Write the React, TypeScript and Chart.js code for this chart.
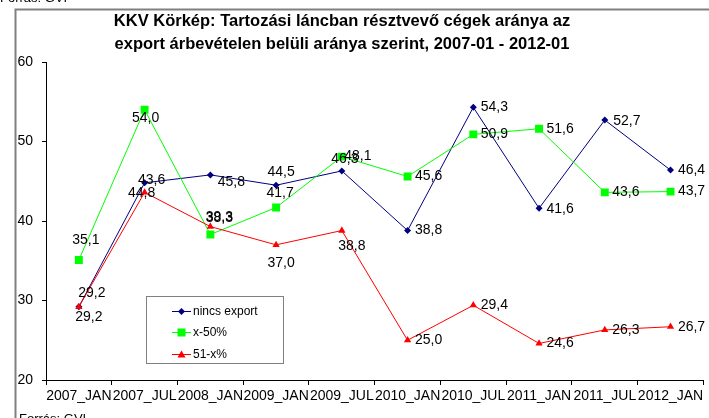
import React, { useEffect, useRef } from 'react';
import { Chart, registerables } from 'chart.js';

Chart.register(...registerables);

const categories = ['2007_JAN', '2007_JUL', '2008_JAN', '2009_JAN', '2009_JUL', '2010_JAN', '2010_JUL', '2011_JAN', '2011_JUL', '2012_JAN'];
const nincsExport = [29.2, 44.8, 45.8, 44.5, 46.3, 38.8, 54.3, 41.6, 52.7, 46.4];
const x50 = [35.1, 54.0, 38.3, 41.7, 48.1, 45.6, 50.9, 51.6, 43.6, 43.7];
const x51 = [29.2, 43.6, 39.3, 37.0, 38.8, 25.0, 29.4, 24.6, 26.3, 26.7];
const seriesNames = ['nincs export', 'x-50%', '51-x%'];
const yMin = 20;
const yMax = 60;
const yStep = 10;
const titleLines = [
  'KKV Körkép: Tartozási láncban résztvevő cégek aránya az',
  'export árbevételen belüli aránya szerint, 2007-01 - 2012-01',
];
const sourceText = 'Forrás: GVI';

// label placement (style only): offsets from each point
const blueLabelOffsets = [[13, -14], [-3, 10], [21, 7], [5, -13], [3, -12], [21, 0], [21, 0], [21, 1], [22, 1], [21, 0]];
const greenLabelOffsets = [[7, -20], [1, 8], [9, -16], [4, -14], [16, 0], [21, 0], [21, 0], [21, 0], [21, 0], [21, 0]];
const redLabelOffsets = [[10, 10], [7, -12], [9, -9], [5, 18], [10, 16], [21, 0], [21, 0], [21, 0], [21, 0], [21, 0]];

const FONT = '"Liberation Sans", Arial, sans-serif';
const COLORS = ['#000080', '#00FF00', '#FF0000'];
const W = 709;
const H = 418;

function fmt(v: number) {
  return v.toFixed(1).replace('.', ',');
}

function drawMarker(ctx: CanvasRenderingContext2D, kind: number, x: number, y: number) {
  ctx.save();
  ctx.fillStyle = COLORS[kind];
  ctx.strokeStyle = COLORS[kind];
  ctx.beginPath();
  if (kind === 0) {
    ctx.moveTo(x, y - 3.5);
    ctx.lineTo(x + 3.5, y);
    ctx.lineTo(x, y + 3.5);
    ctx.lineTo(x - 3.5, y);
    ctx.closePath();
  } else if (kind === 1) {
    ctx.rect(x - 4, y - 4, 8, 8);
  } else {
    ctx.moveTo(x, y - 4);
    ctx.lineTo(x + 4, y + 3);
    ctx.lineTo(x - 4, y + 3);
    ctx.closePath();
  }
  ctx.fill();
  ctx.restore();
}

const decorPlugin = {
  id: 'decor',
  beforeDraw(chart: any) {
    const ctx: CanvasRenderingContext2D = chart.ctx;
    ctx.save();
    ctx.fillStyle = '#ffffff';
    ctx.fillRect(0, 0, W, H);
    // cut-off source line of the previous chart
    ctx.fillStyle = '#000';
    ctx.font = `13px ${FONT}`;
    ctx.textAlign = 'left';
    ctx.textBaseline = 'alphabetic';
    ctx.fillText(sourceText, 0, 2);
    // frame
    ctx.strokeStyle = '#808080';
    ctx.lineWidth = 2;
    ctx.beginPath();
    ctx.moveTo(15.5, H + 5);
    ctx.lineTo(15.5, 9.5);
    ctx.lineTo(W + 5, 9.5);
    ctx.stroke();
    // title
    ctx.fillStyle = '#000';
    ctx.font = `bold 16.5px ${FONT}`;
    ctx.textAlign = 'center';
    ctx.fillText(titleLines[0], 342, 26);
    ctx.fillText(titleLines[1], 342, 49);
    // source
    ctx.font = `13px ${FONT}`;
    ctx.textAlign = 'left';
    ctx.textBaseline = 'top';
    ctx.fillText(sourceText, 19, 413);
    ctx.restore();
  },
  afterDatasetsDraw(chart: any) {
    const ctx: CanvasRenderingContext2D = chart.ctx;
    const offsets = [blueLabelOffsets, greenLabelOffsets, redLabelOffsets];
    ctx.save();
    ctx.font = `14px ${FONT}`;
    ctx.fillStyle = '#000';
    ctx.textAlign = 'center';
    ctx.textBaseline = 'middle';
    chart.data.datasets.forEach((ds: any, di: number) => {
      const meta = chart.getDatasetMeta(di);
      meta.data.forEach((el: any, i: number) => {
        const off = offsets[di][i];
        ctx.fillText(fmt(ds.data[i]), el.x + off[0], el.y + off[1]);
      });
    });
    ctx.restore();
  },
  afterDraw(chart: any) {
    const ctx: CanvasRenderingContext2D = chart.ctx;
    ctx.save();
    // legend box
    ctx.fillStyle = '#fff';
    ctx.fillRect(146.5, 296.5, 137, 67);
    ctx.strokeStyle = '#808080';
    ctx.lineWidth = 1;
    ctx.strokeRect(146.5, 296.5, 137, 67);
    const rows = [311, 332, 354];
    ctx.font = `12px ${FONT}`;
    ctx.textAlign = 'left';
    ctx.textBaseline = 'middle';
    seriesNames.forEach((name, i) => {
      const y = rows[i];
      ctx.strokeStyle = COLORS[i];
      ctx.beginPath();
      ctx.moveTo(172, y + 0.5);
      ctx.lineTo(191, y + 0.5);
      ctx.stroke();
      drawMarker(ctx, i, 181.5, y + 0.5);
      ctx.fillStyle = '#000';
      ctx.fillText(name, 193, y + 1);
    });
    ctx.restore();
  },
};

export default function App() {
  const canvasRef = useRef<HTMLCanvasElement | null>(null);

  useEffect(() => {
    if (!canvasRef.current) return;
    const chart = new Chart(canvasRef.current, {
      type: 'line',
      data: {
        labels: categories,
        datasets: [
          {
            label: seriesNames[0],
            data: nincsExport,
            borderColor: COLORS[0],
            backgroundColor: COLORS[0],
            borderWidth: 1,
            pointStyle: 'rectRot',
            pointRadius: 3.5,
            pointBorderWidth: 0,
            tension: 0,
            order: 3,
          },
          {
            label: seriesNames[1],
            data: x50,
            borderColor: COLORS[1],
            backgroundColor: COLORS[1],
            borderWidth: 1,
            pointStyle: 'rect',
            pointRadius: 5.6,
            pointBorderWidth: 0,
            tension: 0,
            order: 2,
          },
          {
            label: seriesNames[2],
            data: x51,
            borderColor: COLORS[2],
            backgroundColor: COLORS[2],
            borderWidth: 1,
            pointStyle: 'triangle',
            pointRadius: 4.2,
            pointBorderWidth: 0,
            tension: 0,
            order: 1,
          },
        ],
      },
      options: {
        animation: false,
        responsive: false,
        maintainAspectRatio: false,
        layout: { padding: { top: 62, left: 0, right: 0, bottom: 0 } },
        plugins: {
          legend: { display: false },
          title: { display: false },
          tooltip: { enabled: false },
        },
        scales: {
          x: {
            type: 'category',
            offset: true,
            grid: { offset: true, drawOnChartArea: false, drawTicks: true, tickLength: 5, color: '#000', lineWidth: 1 },
            border: { color: '#000', width: 1 },
            ticks: {
              color: '#000',
              font: { family: FONT, size: 14 },
              maxRotation: 0,
              minRotation: 0,
              autoSkip: false,
              padding: 3,
            },
            afterFit(scale: any) {
              scale.height = 38;
            },
          },
          y: {
            min: yMin,
            max: yMax,
            ticks: { stepSize: yStep, color: '#000', font: { family: FONT, size: 14 }, padding: 9 },
            grid: { drawOnChartArea: false, tickLength: 4, color: '#000' },
            border: { color: '#000', width: 1 },
            afterFit(scale: any) {
              scale.width = 46;
            },
          },
        },
      },
      plugins: [decorPlugin],
    } as any);
    return () => chart.destroy();
  }, []);

  return (
    <div style={{ position: 'absolute', left: 0, top: 0, width: W, height: H, overflow: 'hidden', background: '#fff' }}>
      <canvas ref={canvasRef} width={W} height={H} style={{ width: W, height: H, display: 'block' }} />
    </div>
  );
}
